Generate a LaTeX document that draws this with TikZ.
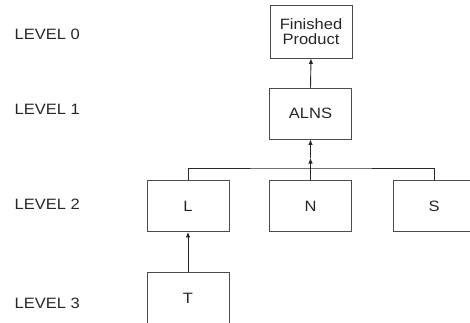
\documentclass[tikz,border=0pt]{standalone}
\usepackage{fontspec}
\setmainfont[FakeStretch=1.1]{Liberation Sans}
\usetikzlibrary{arrows.meta}
\begin{document}
\begin{tikzpicture}[x=1pt,y=1pt,
  box/.style={draw=black!70,line width=0.9pt,minimum width=82pt,minimum height=51pt,inner sep=0pt,font=\fontsize{15}{14.5}\selectfont,align=center,text=black!85},
  lvl/.style={anchor=base west,font=\fontsize{15}{17}\selectfont,inner sep=0pt,text=black!85},
  conn/.style={line width=0.9pt,draw=black!85},
  arr/.style={conn,-{Latex[length=5.5pt,width=4.5pt]}}]
\useasboundingbox (0,0) rectangle (470,322);
\clip (0,0) rectangle (470,322);
\node[lvl] (l0) at (14.5,283) {LEVEL 0};
\node[lvl] (l1) at (14.5,208) {LEVEL 1};
\node[lvl] (l2) at (14.5,112.5) {LEVEL 2};
\node[lvl] (l3) at (14.5,13.7) {LEVEL 3};
\node[box,minimum height=53pt] (fp) at (311,290.5) {Finished\\Product};
\node[box] (alns) at (310.5,208.5) {ALNS};
\node[box] (L) at (188,116) {L};
\node[box] (N) at (310.5,116) {N};
\node[box] (S) at (434,116) {S};
\node[box] (T) at (188,24) {T};
\coordinate (bus) at (310.5,154);
\coordinate (mid) at (310.5,164);
\draw[conn] (L.north) |- (bus) -| (S.north);
\draw[conn] (N.north) -- (bus);
\draw[arr] (bus) -- (mid);
\draw[arr] (mid) -- (alns.south);
\draw[arr] (alns.north) -- (fp.south);
\draw[arr] (T.north) -- (L.south);
\end{tikzpicture}
\end{document}
